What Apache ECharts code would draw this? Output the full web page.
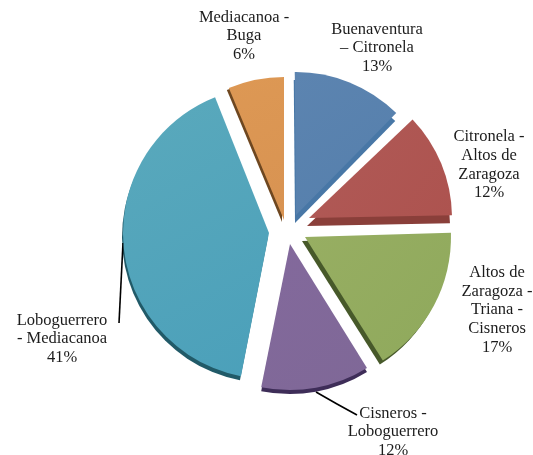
<!DOCTYPE html>
<html>
<head>
<meta charset="utf-8">
<style>
  html, body { margin: 0; padding: 0; background: #fff; }
  #chart { width: 533px; height: 455px; }
</style>
<script src="https://cdn.jsdelivr.net/npm/echarts@6/dist/echarts.min.js"></script>
</head>
<body>
<div id="chart"></div>
<script>
// clockwise from 12 o'clock
var categories = [
  "Buenaventura\n– Citronela",
  "Citronela -\nAltos de\nZaragoza",
  "Altos de\nZaragoza -\nTriana -\nCisneros",
  "Cisneros -\nLoboguerrero",
  "Loboguerrero\n- Mediacanoa",
  "Mediacanoa -\nBuga"
];
var values = [12.5, 11.8, 16.5, 12.0, 40.9, 6.3];

// look of each exploded slice
var topColors = [
  ["#5c84b0", "#557fac"],
  ["#b05a57", "#ad534f"],
  ["#97ae62", "#8fa95c"],
  ["#83699c", "#7f6897"],
  ["#5aa9bc", "#4ba0ba"],
  ["#dd9854", "#d89352"]
];
var sideColors = ["#4877a6", "#8a3f3a", "#47592a", "#3e2d58", "#215a68", "#6e4720"];
var apex = [[296, 215], [309, 218], [305, 237], [290, 244], [269, 233], [284, 220]];
var radius = [143, 143, 146, 146, 146, 143];
var depth = [[-1, 8], [-2, 8], [-3, 4], [0, 4], [-1, 4], [-2, 2]];
var spin = [-0.5, 1.4, 0.9, 1.3, 1, 0]; // the 3d view drifts each slice a little
var labelPos = [[377, 48], [489, 165], [497, 310], [393, 432], [62, 339], [244, 36]];
var leaderLines = {
  3: [[316, 392], [337, 404], [357, 415]],
  4: [[123, 243], [121, 283], [119, 323]]
};

var LABEL_FONT = "Liberation Serif";

// every series holds the whole data set so the library works out the angles,
// only the slice it belongs to is painted
function sliceSeries(i, isSide) {
  var s = {
    type: "pie",
    silent: true,
    animation: false,
    avoidLabelOverlap: false,
    radius: [0, radius[i]],
    center: isSide ? [apex[i][0] + depth[i][0], apex[i][1] + depth[i][1]] : apex[i],
    startAngle: 90 - spin[i],
    z: isSide ? 1 : 2,
    data: values.map(function (v, j) {
      var item = {
        name: categories[j],
        value: v,
        itemStyle: { color: "transparent" },
        label: { show: false },
        labelLine: { show: false }
      };
      if (j === i) {
        item.itemStyle = isSide ? { color: sideColors[i] } : {
          color: new echarts.graphic.LinearGradient(0, 0, 1, 1, [
            { offset: 0, color: topColors[i][0] },
            { offset: 1, color: topColors[i][1] }
          ])
        };
        if (!isSide) {
          item.label = {
            show: true,
            formatter: function (p) { return p.name + "\n" + Math.round(p.value) + "%"; },
            fontFamily: LABEL_FONT,
            fontSize: 16.5,
            lineHeight: 18.6,
            color: "#1c1c1c"
          };
          // only these two have a leader line in the picture
          item.labelLine = {
            show: !!leaderLines[i],
            lineStyle: { color: "#000", width: 1.6 }
          };
        }
      }
      return item;
    })
  };
  if (!isSide) {
    s.labelLayout = {
      x: labelPos[i][0],
      y: labelPos[i][1],
      align: "center",
      verticalAlign: "middle",
      labelLinePoints: leaderLines[i]
    };
  }
  return s;
}

var series = [];
values.forEach(function (v, i) { series.push(sliceSeries(i, true)); });
values.forEach(function (v, i) { series.push(sliceSeries(i, false)); });

var myChart = echarts.init(document.getElementById("chart"));
myChart.setOption({
  backgroundColor: "#fff",
  animation: false,
  series: series
});
</script>
</body>
</html>
